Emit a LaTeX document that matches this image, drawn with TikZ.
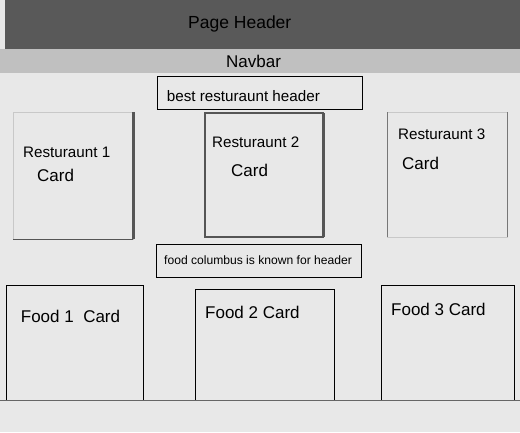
\documentclass[tikz,border=0pt]{standalone}
\usepackage{fontspec}
\setmainfont{Liberation Sans}
\usetikzlibrary{positioning}
\definecolor{pagebg}{HTML}{E8E8E8}
\definecolor{headgray}{HTML}{595959}
\definecolor{navgray}{HTML}{C0C0C0}
\definecolor{edgedark}{HTML}{555555}
\definecolor{edgelight}{HTML}{C8C8C8}
\definecolor{rulegray}{HTML}{666666}
\begin{document}
\begin{tikzpicture}[
    x=1pt,y=-1pt,
    bar/.style={anchor=north west,inner sep=0pt,outer sep=0pt},
    box/.style={draw=black,line width=0.9pt,anchor=north west,inner sep=0pt,outer sep=0pt},
    card/.style={anchor=north west,inner sep=0pt,outer sep=0pt},
    lbl/.style={anchor=base west,inner sep=0pt,text=black},
    big/.style={lbl,font=\fontsize{17}{19}\selectfont},
    mid/.style={lbl,font=\fontsize{15.2}{17}\selectfont},
    small/.style={lbl,font=\fontsize{12.1}{14}\selectfont},
  ]
    % page background fixes the size
    \fill[pagebg] (0,0) rectangle (520,432);
    \useasboundingbox (0,0) rectangle (520,432);

    % header and navbar
    \node[bar,fill=headgray,minimum width=515pt,minimum height=49pt] (header) at (5,0) {};
    \node[bar,fill=navgray,minimum width=520pt,minimum height=24pt] (navbar) at (0,49) {};
    \node[lbl,font=\fontsize{17.5}{19}\selectfont] (headtxt) at (188,28.8) {Page Header};
    \node[big] (navtxt) at (226,67.6) {Navbar};

    % section headers
    \node[box,minimum width=205pt,minimum height=33pt] (besthead) at (157.3,76.3) {};
    \node[mid] (besttxt) at (166.7,101.5) {best resturaunt header};
    \node[box,minimum width=205.7pt,minimum height=33pt] (foodhead) at (156,244.3) {};
    \node[small] (foodtxt) at (164,264.3) {food columbus is known for header};

    % restaurant cards
    \node[card,draw=edgelight,line width=1pt,minimum width=120pt,minimum height=127pt] (rest1) at (13.3,112.3) {};
    \draw[edgedark,line width=2.4pt] (rest1.north east) -- (rest1.south east);
    \draw[edgedark,line width=1.6pt] (rest1.south east) -- (rest1.south west);
    \node[mid] (rest1a) at (23,157) {Resturaunt 1};
    \node[big] (rest1b) at (37,181.5) {Card};

    \node[card,draw=edgedark,line width=1.8pt,minimum width=118pt,minimum height=124pt] (rest2) at (205,113) {};
    \draw[edgedark,line width=3pt] (rest2.north east) -- (rest2.south east);
    \node[mid] (rest2a) at (212,147.5) {Resturaunt 2};
    \node[big] (rest2b) at (231,176.5) {Card};

    \node[card,draw=edgelight,line width=1pt,minimum width=120pt,minimum height=125pt] (rest3) at (387.3,112) {};
    \draw[edgedark!80,line width=0.9pt] (rest3.north west) -- (rest3.south west);
    \draw[edgedark!80,line width=0.9pt] (rest3.north east) -- (rest3.south east);
    \node[mid] (rest3a) at (398,139.5) {Resturaunt 3};
    \node[big] (rest3b) at (402,169.5) {Card};

    % food cards
    \node[box,minimum width=137pt,minimum height=115pt] (food1) at (6.3,285.3) {};
    \node[big] (food1txt) at (20.7,322.5) {Food 1\ \ Card};
    \node[box,minimum width=139.7pt,minimum height=111pt] (food2) at (195,289.3) {};
    \node[big] (food2txt) at (205,318.5) {Food 2 Card};
    \node[box,minimum width=133pt,minimum height=115pt] (food3) at (381.3,285.3) {};
    \node[big] (food3txt) at (391,315.5) {Food 3 Card};

    % footer rule
    \coordinate (footL) at (0,400.3);
    \coordinate (footR) at (520,400.3);
    \draw[rulegray,line width=1.2pt] (footL) -- (footR);
  \end{tikzpicture}
\end{document}
